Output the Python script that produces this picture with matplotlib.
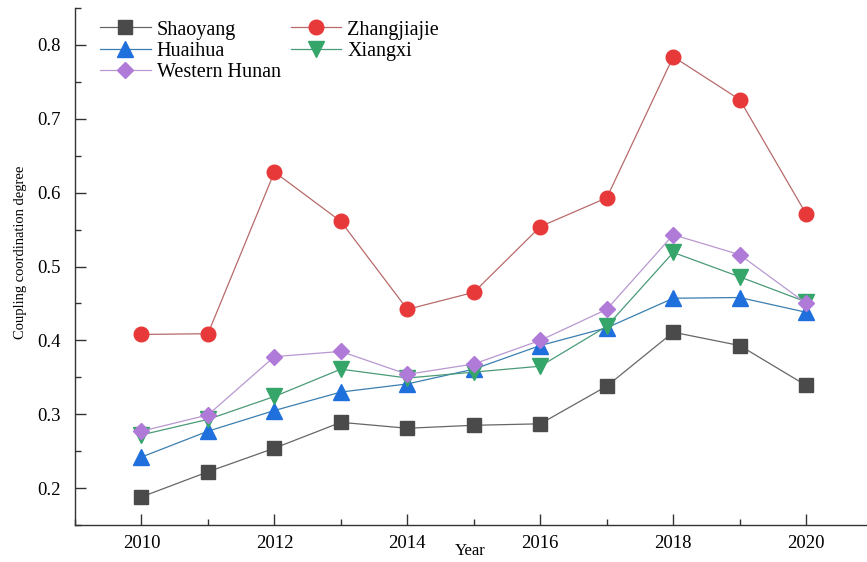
import matplotlib
matplotlib.use("Agg")
import matplotlib.pyplot as plt
from matplotlib.ticker import MultipleLocator

years = [2010, 2011, 2012, 2013, 2014, 2015, 2016, 2017, 2018, 2019, 2020]
shaoyang = [0.188, 0.222, 0.254, 0.289, 0.281, 0.285, 0.287, 0.338, 0.411, 0.393, 0.339]
zhangjiajie = [0.408, 0.409, 0.628, 0.561, 0.442, 0.465, 0.554, 0.593, 0.784, 0.726, 0.571]
huaihua = [0.242, 0.277, 0.305, 0.330, 0.341, 0.361, 0.393, 0.417, 0.457, 0.458, 0.438]
xiangxi = [0.272, 0.293, 0.324, 0.361, 0.349, 0.357, 0.365, 0.419, 0.519, 0.486, 0.452]
western_hunan = [0.277, 0.299, 0.378, 0.385, 0.354, 0.368, 0.400, 0.442, 0.543, 0.516, 0.450]
y_ticks = [0.2, 0.3, 0.4, 0.5, 0.6, 0.7, 0.8]
y_ticklabels = ["0.2", "0.3", "0.4", "0.5", "0.6", "0.7", "0.8"]
x_ticks = [2010, 2012, 2014, 2016, 2018, 2020]

plt.rcParams['font.family'] = ['Liberation Serif', 'DejaVu Serif']

fig = plt.figure(figsize=(8.67, 5.62), dpi=100)
ax = fig.add_axes([75/867, 1-525/562, (866-75)/867, (525-8)/562])

series = [
    ("Shaoyang", shaoyang, 's', '#4a4a4a', '#666666', 9.5),
    ("Zhangjiajie", zhangjiajie, 'o', '#e8393a', '#b86a6a', 10.5),
    ("Huaihua", huaihua, '^', '#1f6fdc', '#3a7fb0', 11),
    ("Xiangxi", xiangxi, 'v', '#35a56a', '#4a9a78', 11),
    ("Western Hunan", western_hunan, 'D', '#b07ad8', '#b898d0', 8.5),
]
handles = {}
for name, vals, mk, mc, lc, ms in series:
    h, = ax.plot(years, vals, color=lc, lw=0.9, marker=mk, markersize=ms,
                 markerfacecolor=mc, markeredgecolor=mc, label=name)
    handles[name] = h

ax.set_xlim(2009, 2020.9)
ax.set_ylim(0.15, 0.85)
ax.xaxis.set_minor_locator(MultipleLocator(1))
ax.yaxis.set_minor_locator(MultipleLocator(0.05))
ax.set_yticks(y_ticks)
ax.set_yticklabels(y_ticklabels)
ax.set_xticks(x_ticks)

for s in ['top', 'right']:
    ax.spines[s].set_visible(False)
for s in ['left', 'bottom']:
    ax.spines[s].set_linewidth(1.0)
    ax.spines[s].set_color('#333333')

ax.tick_params(which='major', direction='in', length=8, width=1.0, color='#333333',
               labelsize=13.5, pad=10)
ax.tick_params(which='minor', direction='in', length=4, width=1.0, color='#333333')
ax.tick_params(axis='x', which='major', pad=7)

ax.set_xlabel("Year", fontsize=12, labelpad=-6)
ax.set_ylabel("Coupling coordination degree", fontsize=10.5)
ax.yaxis.set_label_coords(-0.061, 0.528)

order = ["Shaoyang", "Huaihua", "Western Hunan", "Zhangjiajie", "Xiangxi"]
leg = ax.legend([handles[n] for n in order], order, ncol=2, loc='upper left',
                bbox_to_anchor=(0.032, 0.976), frameon=False,
                fontsize=14.5, handlelength=2.5, handletextpad=0.3, labelspacing=0.1,
                columnspacing=0.5, borderaxespad=0, borderpad=0)

fig.savefig("out.png", dpi=100)
